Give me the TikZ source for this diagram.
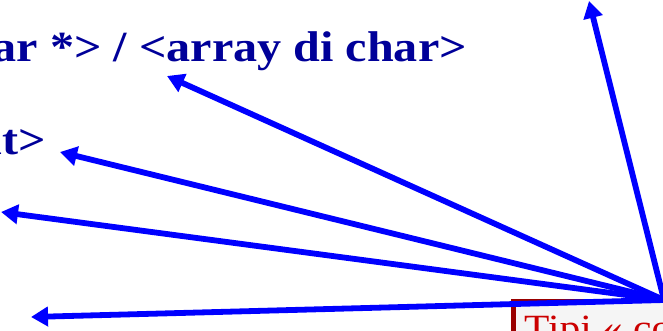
\documentclass[tikz,border=0pt]{standalone}
\usepackage{fontspec}
\setmainfont{Liberation Serif}[FakeStretch=1.12]
\usetikzlibrary{arrows.meta}
\definecolor{txtblue}{RGB}{0,0,153}
\definecolor{arrblue}{RGB}{0,0,255}
\definecolor{boxred}{RGB}{153,0,0}
\definecolor{txtred}{RGB}{204,0,0}
\definecolor{boxfill}{RGB}{245,245,245}
\begin{document}
\begin{tikzpicture}[x=1pt,y=-1pt,
  conn/.style={draw=arrblue,line width=5.8pt,-{Triangle[length=17pt,width=19pt]}},
  bluetext/.style={text=txtblue,font=\bfseries\fontsize{43}{47}\selectfont,inner sep=0pt},
  redtext/.style={text=txtred,font=\fontsize{37}{41}\selectfont,inner sep=0pt},
  boxstyle/.style={fill=boxfill,draw=boxred,line width=2pt}]
\useasboundingbox (0,0) rectangle (663,331);
\clip (0,0) rectangle (663,331);
% box
\path[boxstyle] (512,300) rectangle (720,380);
\draw[boxred,line width=5pt] (513.5,299) -- (513.5,340);
\node[redtext,anchor=base west] (t3) at (524,340) {Tipi « composti »};
% texts
\node[bluetext,anchor=base east] (t1) at (467,62) {<char *> / <array di char>};
\node[bluetext,anchor=base east] (t2) at (46,154) {<int>};
% connectors
\coordinate (o) at (664,300);
\coordinate (a1) at (589,1);
\coordinate (a2) at (167,76);
\coordinate (a3) at (60,152);
\coordinate (a4) at (1,212);
\coordinate (a5) at (31,317);
\foreach \t in {a1,a2,a3,a4,a5} \draw[conn] (o) -- (\t);
\end{tikzpicture}
\end{document}
